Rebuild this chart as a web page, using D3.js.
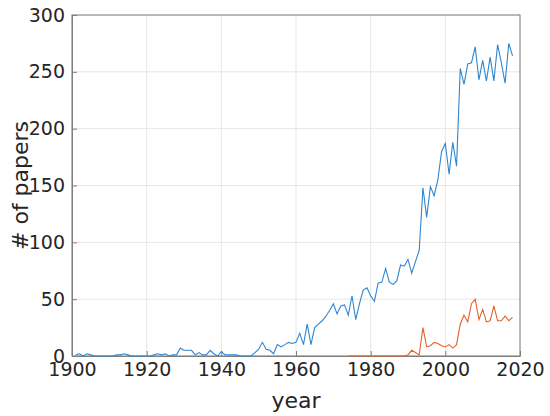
<!DOCTYPE html>
<html><head><meta charset="utf-8">
<script src="https://cdn.jsdelivr.net/npm/d3@7"></script>
<style>body{margin:0;background:#fff}text{font-family:"DejaVu Sans",sans-serif}</style>
</head><body>
<script>
// papers per year, 1901..2018
const years = d3.range(1901, 2019);
const allPapers = [
  1,2,0,2,1,0,0,0,0,0, 0,1,1,2,1,0,0,0,0,0,  // 1901-1920
  0,1,2,1,2,0,1,1,7,5, 5,5,1,3,1,1,5,2,0,4,  // 1921-1940
  1,1,1,1,0,0,0,0,3,6, 12,6,5,2,10,8,10,12,11,12, // 1941-1960
  20,10,28,10,25,28,31,35,40,46, 37,44,45,36,53,32,46,58,60,53, // 1961-1980
  48,64,65,77,65,63,66,80,79,85, 73,83,93,148,122,149,141,155,180,187, // 1981-2000
  160,188,167,253,239,257,258,272,243,260, 242,263,242,274,258,240,275,264 // 2001-2018
];
const yearsB = d3.range(1974, 2019);
const subsetPapers = [
  0,0,0,0,0,0,0,0,0,0, 0,0,0,0,0,0,1,5,3,1, // 1974-1993
  25,8,9,12,11,9,8,10,7,10, 28,36,30,46,50,32,41,30,31,44, // 1994-2013
  31,31,35,31,34 // 2014-2018
];
const xTicks = [1900, 1920, 1940, 1960, 1980, 2000, 2020];
const yTicks = [0, 50, 100, 150, 200, 250, 300];

const width = 550, height = 416;
const marginLeft = 72, marginRight = 30, marginTop = 15, marginBottom = 60;

const svg = d3.select("body").append("svg").attr("width", width).attr("height", height);

const x = d3.scaleLinear().domain([1900, 2020]).range([marginLeft, width - marginRight]);
const y = d3.scaleLinear().domain([0, 300]).range([height - marginBottom, marginTop]);

// gitter
svg.append("g").selectAll("line").data(xTicks).join("line")
  .attr("x1", d => x(d)).attr("x2", d => x(d))
  .attr("y1", y(0)).attr("y2", y(300))
  .attr("stroke", "#e6e6e6");
svg.append("g").selectAll("line").data(yTicks).join("line")
  .attr("x1", x(1900)).attr("x2", x(2020))
  .attr("y1", d => y(d)).attr("y2", d => y(d))
  .attr("stroke", "#e6e6e6");

// akser
const xAxisG = svg.append("g").attr("transform", `translate(0,${y(0)})`)
  .call(d3.axisBottom(x).tickValues(xTicks).tickFormat(d3.format("d")).tickSizeInner(-5).tickSizeOuter(0).tickPadding(7));
const yAxisG = svg.append("g").attr("transform", `translate(${x(1900)},0)`)
  .call(d3.axisLeft(y).tickValues(yTicks).tickSizeInner(-5).tickSizeOuter(0).tickPadding(7));
[xAxisG, yAxisG].forEach(g => {
  g.selectAll("path,line").attr("stroke", "#7f7f7f");
  g.selectAll("text").attr("fill", "#262626").style("font-size", "19px");
});
// box
svg.append("rect").attr("x", x(1900)).attr("y", y(300))
  .attr("width", x(2020) - x(1900)).attr("height", y(0) - y(300))
  .attr("fill", "none").attr("stroke", "#7f7f7f").attr("stroke-width", 1);

const line = d3.line().x(d => x(d[0])).y(d => y(d[1]));
svg.append("path").datum(d3.zip(years, allPapers))
  .attr("d", line).attr("fill", "none").attr("stroke", "#2f86d0").attr("stroke-width", 1.1);
svg.append("path").datum(d3.zip(yearsB, subsetPapers))
  .attr("d", line).attr("fill", "none").attr("stroke", "#e0622a").attr("stroke-width", 1.1);

svg.append("text").attr("x", (x(1900) + x(2020)) / 2).attr("y", 408)
  .attr("text-anchor", "middle").attr("fill", "#262626").style("font-size", "22px").text("year");
svg.append("text").attr("transform", `translate(28,${(y(0) + y(300)) / 2}) rotate(-90)`)
  .attr("text-anchor", "middle").attr("fill", "#262626").style("font-size", "22px").text("# of papers");
</script>
</body></html>
